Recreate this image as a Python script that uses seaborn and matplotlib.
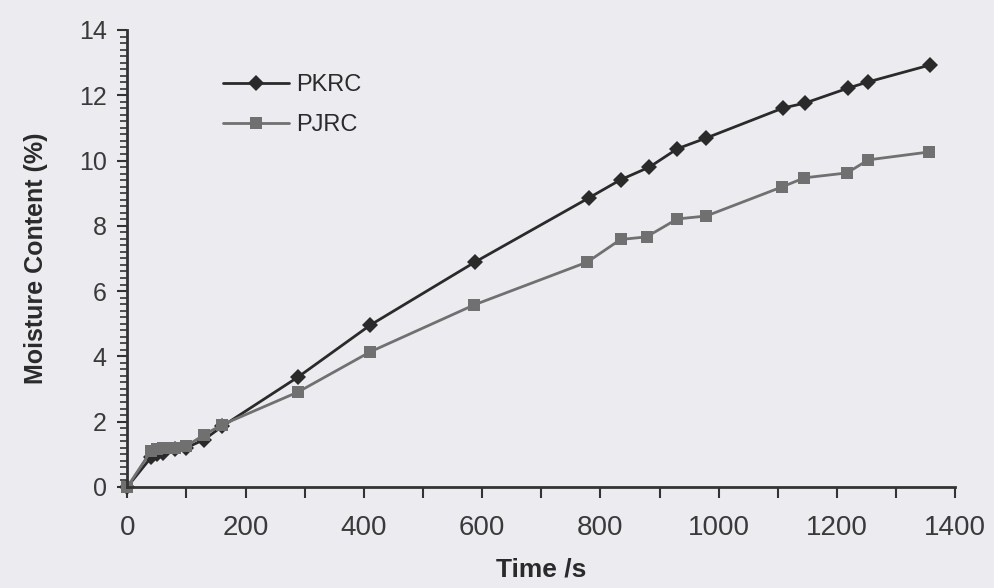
import matplotlib
matplotlib.use("Agg")
import matplotlib.pyplot as plt
import pandas as pd
import seaborn as sns
from matplotlib.ticker import MultipleLocator

# values
pkrc_time = [0, 40, 50, 60, 80, 100, 130, 160, 289, 411, 588, 780, 834, 883, 930, 979, 1109, 1146, 1219, 1253, 1358]
pkrc_moist = [0, 0.9, 1.0, 1.05, 1.15, 1.2, 1.45, 1.85, 3.37, 4.96, 6.89, 8.85, 9.41, 9.80, 10.36, 10.69, 11.61, 11.76, 12.22, 12.41, 12.93]
pjrc_time = [0, 40, 50, 60, 80, 100, 130, 160, 289, 411, 587, 778, 834, 878, 930, 979, 1107, 1145, 1217, 1253, 1355]
pjrc_moist = [0, 1.1, 1.15, 1.2, 1.2, 1.25, 1.6, 1.9, 2.91, 4.14, 5.58, 6.89, 7.58, 7.66, 8.21, 8.30, 9.19, 9.47, 9.62, 10.02, 10.26]

df = pd.concat([
    pd.DataFrame({"Time": pkrc_time, "Moisture": pkrc_moist, "Sample": "PKRC"}),
    pd.DataFrame({"Time": pjrc_time, "Moisture": pjrc_moist, "Sample": "PJRC"}),
], ignore_index=True)

sns.set_theme(style="ticks")
plt.rcParams["font.family"] = ["Liberation Sans", "DejaVu Sans"]

bg = "#ecebf0"
fig = plt.figure(figsize=(9.95, 5.88), dpi=100, facecolor=bg)
ax = fig.add_axes([0.128, 0.172, 0.832, 0.777], facecolor=bg)

sns.lineplot(
    data=df, x="Time", y="Moisture", hue="Sample", style="Sample",
    palette={"PKRC": "#2a2a2a", "PJRC": "#707070"},
    markers={"PKRC": "D", "PJRC": "s"}, dashes=False,
    markersize=8.5, linewidth=2, markeredgewidth=0, ax=ax,
)
for line in ax.lines:
    line.set_clip_on(False)

ax.set_xlim(0, 1400)
ax.set_ylim(0, 14)
ax.xaxis.set_major_locator(MultipleLocator(200))
ax.xaxis.set_minor_locator(MultipleLocator(100))
ax.yaxis.set_major_locator(MultipleLocator(2))
ax.yaxis.set_minor_locator(MultipleLocator(0.2))
ax.tick_params(axis="x", which="both", direction="out", length=8, width=1.5, colors="#333333", labelsize=20, pad=12)
ax.tick_params(axis="y", which="major", direction="out", length=7, width=1.5, colors="#333333", labelsize=18, pad=8)
ax.tick_params(axis="y", which="minor", direction="out", length=5, width=1.2, colors="#333333")
for lbl in ax.get_xticklabels() + ax.get_yticklabels():
    lbl.set_color("#3a3a3a")

sns.despine(ax=ax)
for side in ("left", "bottom"):
    ax.spines[side].set_linewidth(2)
    ax.spines[side].set_color("#333333")

ax.set_xlabel("Time /s", fontsize=19, fontweight="bold", color="#2a2a2a", labelpad=12)
ax.set_ylabel("Moisture Content (%)", fontsize=18, fontweight="bold", color="#2a2a2a", labelpad=22)

leg = ax.legend(loc="upper left", bbox_to_anchor=(0.09, 0.95), frameon=False,
                fontsize=17, handlelength=2.8, handletextpad=0.3, labelspacing=0.75)
for t in leg.get_texts():
    t.set_color("#2a2a2a")

fig.savefig("out.png", dpi=100, facecolor=bg)
